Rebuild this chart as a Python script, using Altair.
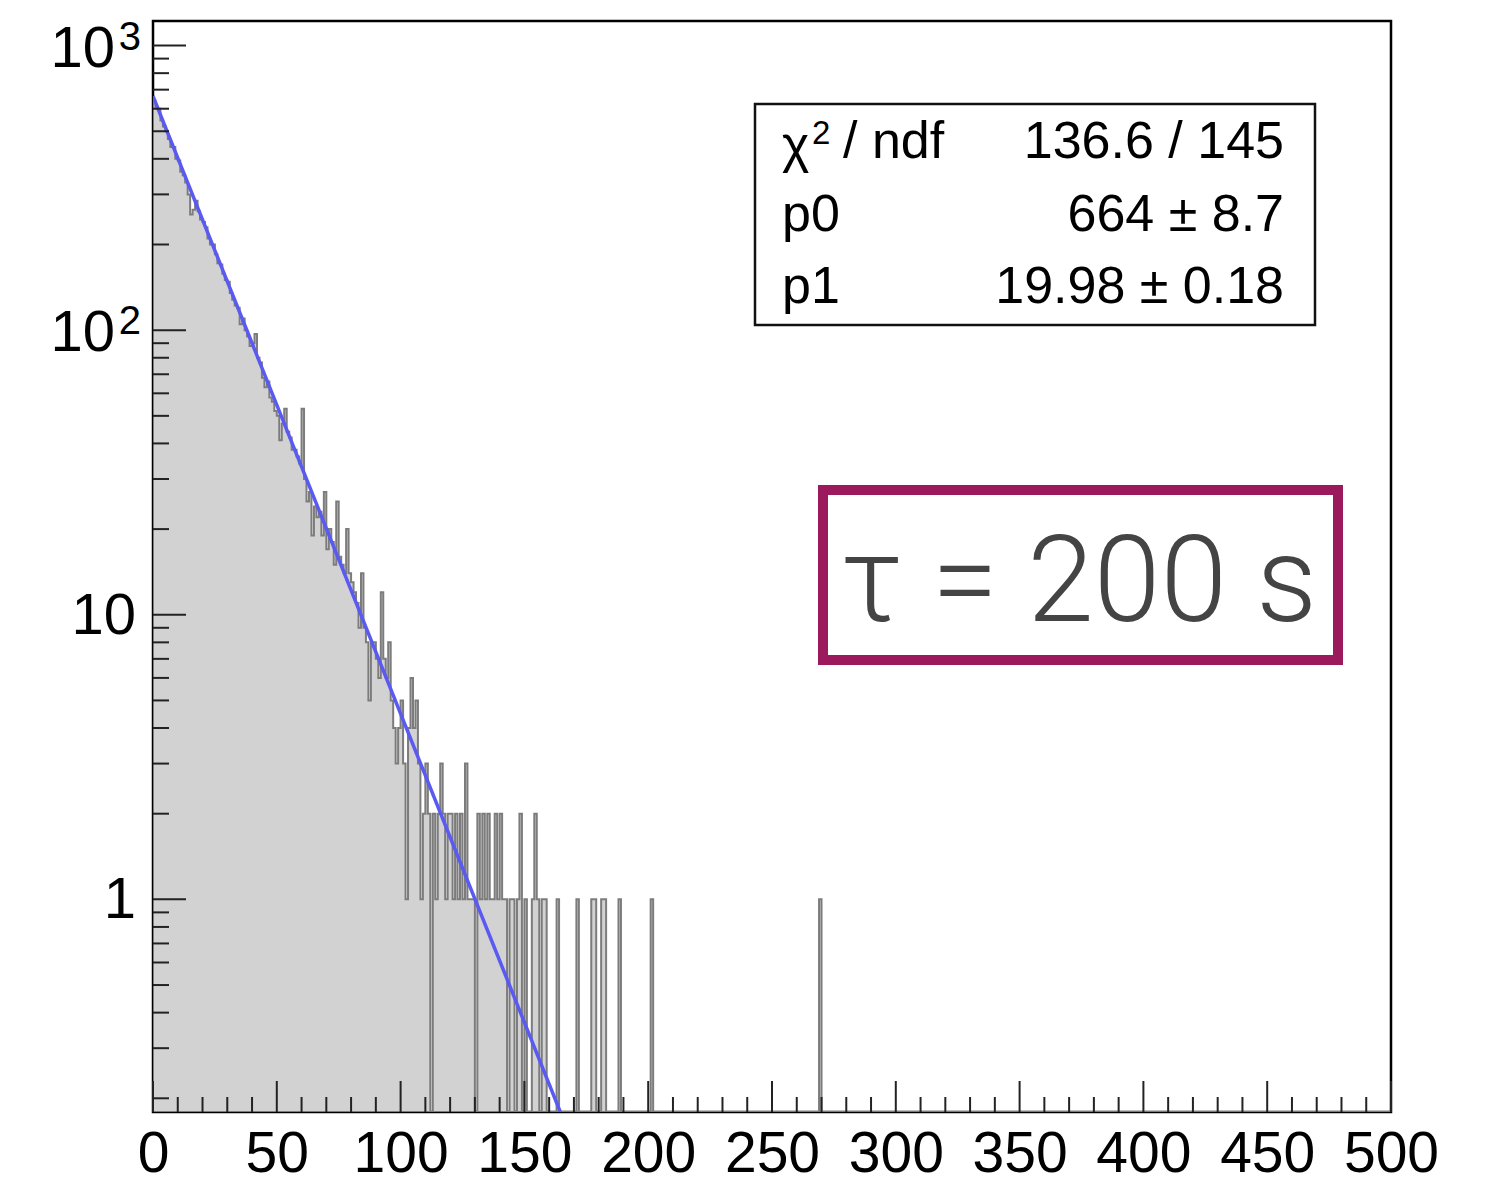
import altair as alt
import pandas as pd

# ---------------- data ----------------
# histogram counts, bin width 1, bins [i, i+1) starting at 0
counts_head = [
    640, 610, 600, 545, 520, 500, 470, 440, 440, 400,
    395, 360, 350, 330, 300, 255, 265, 285, 262, 245,
    240, 230, 210, 200, 200, 185, 172, 170, 158, 150,
    148, 135, 128, 122, 120, 105, 110, 100, 95, 88,
    90, 97, 80, 77, 68, 63, 66, 58, 56, 52,
    50, 41, 47, 53, 44, 42, 38, 38, 36, 34,
    53, 30, 25, 27, 19, 24, 22, 23, 19, 27,
    17, 20, 18, 15, 25, 16, 15, 14, 20, 14,
    13, 12, 11, 9, 14, 9, 8, 5, 8, 8,
    7, 6, 12, 7, 6, 8, 5, 4, 3, 4,
]
counts_tail = [
    5, 3, 1, 4, 6, 4, 5, 3, 1, 2,
    3, 2, 0, 2, 1, 2, 3, 2, 1, 2,
    2, 1, 2, 1, 2, 1, 3, 1, 1, 1,
    0, 2, 1, 2, 1, 2, 1, 1, 2, 1,
    2, 1, 1, 0, 1, 1, 0, 1, 2, 0,
    1, 0, 0, 1, 2, 1, 0, 1, 1, 0,
    0, 0, 0, 1, 0, 0, 0, 0, 0, 0,
    0, 1, 0, 0, 0, 0, 0, 1, 1, 0,
    0, 1, 1, 0, 0, 0, 0, 0, 1, 0,
    0, 0, 0, 0, 0, 0, 0, 0, 0, 0,
    0, 1, 0,
]
far_bins = [269]
far_counts = [1]

# exponential fit p0*exp(-x/p1), endpoints
fit_x = [0, 164.5]
fit_y = [664, 0.179]

x_label_values = [0, 50, 100, 150, 200, 250, 300, 350, 400, 450, 500]
y_plain_values = [1, 10]
y_plain_text = ["1", "10"]
y_pow_values = [100, 1000]
y_pow_base = ["10", "10"]
y_pow_exp = ["2", "3"]
y_major = [1, 10, 100, 1000]
y_minor = [0.2, 0.3, 0.4, 0.5, 0.6, 0.7, 0.8, 0.9,
           2, 3, 4, 5, 6, 7, 8, 9,
           20, 30, 40, 50, 60, 70, 80, 90,
           200, 300, 400, 500, 600, 700, 800, 900]
x_minor = [v for v in range(10, 500, 10) if v % 50 != 0]

stats_values = ["136.6 / 145", "664 ± 8.7", "19.98 ± 0.18"]
tau_text = "τ = 200 s"

# ---------------- build tables ----------------
N_BINS = 500
c = [0] * N_BINS
for i, v in enumerate(counts_head + counts_tail):
    c[i] = v
for b, v in zip(far_bins, far_counts):
    c[b] = v
hist = pd.DataFrame({"x": list(range(N_BINS)) + [N_BINS], "n": c + [c[-1]]})
fit = pd.DataFrame({"x": fit_x, "y": fit_y})

W, H = 1238, 1091
Y_MIN, Y_MAX = 0.179, 1220
FONT = "Liberation Sans"

xs = alt.Scale(domain=[0, 500], nice=False, zero=False)
ys = alt.Scale(type="log", domain=[Y_MIN, Y_MAX], nice=False, clamp=True)

x_axis = alt.Axis(values=x_label_values, title=None, ticks=False, domain=False, grid=False,
                  labelFontSize=57, labelFont=FONT, labelColor="black", labelPadding=14,
                  labelFlush=False)

X = alt.X("x:Q", scale=xs, axis=x_axis)
Y = alt.Y("y:Q", scale=ys, axis=None)

area = alt.Chart(hist).transform_calculate(
    y="max(datum.n, 0.01)"
).mark_area(
    interpolate="step-after", fill="#d2d2d2", stroke="#7c7c7c", strokeWidth=2, clip=True
).encode(x=X, y=Y, y2=alt.datum(Y_MIN))

fit_line = alt.Chart(fit).mark_line(color="#5a5af2", strokeWidth=3.5, clip=True).encode(x=X, y=Y)

TICK = "#222222"
xmaj = alt.Chart(pd.DataFrame({"x": x_label_values})).mark_rule(color=TICK, strokeWidth=2).encode(
    x=X, y=alt.value(H), y2=alt.value(H - 31))
xmin_ = alt.Chart(pd.DataFrame({"x": x_minor})).mark_rule(color=TICK, strokeWidth=2).encode(
    x=X, y=alt.value(H), y2=alt.value(H - 15))
ymaj = alt.Chart(pd.DataFrame({"y": y_major})).mark_rule(color=TICK, strokeWidth=2).encode(
    y=Y, x=alt.value(0), x2=alt.value(33))
ymin_ = alt.Chart(pd.DataFrame({"y": y_minor})).mark_rule(color=TICK, strokeWidth=2).encode(
    y=Y, x=alt.value(0), x2=alt.value(16))

# y tick labels (with real superscripts for the powers of ten)
ylab_plain = alt.Chart(pd.DataFrame({"y": y_plain_values, "t": y_plain_text})).mark_text(
    align="right", baseline="middle", font=FONT, fontSize=58, color="black", dy=2
).encode(y=Y, x=alt.value(-17), text="t:N")
ylab_base = alt.Chart(pd.DataFrame({"y": y_pow_values, "t": y_pow_base})).mark_text(
    align="right", baseline="middle", font=FONT, fontSize=58, color="black", dy=4
).encode(y=Y, x=alt.value(-38), text="t:N")
ylab_exp = alt.Chart(pd.DataFrame({"y": y_pow_values, "t": y_pow_exp})).mark_text(
    align="right", baseline="alphabetic", font=FONT, fontSize=40, color="black", dy=4
).encode(y=Y, x=alt.value(-12), text="t:N")

one = pd.DataFrame({"k": [0]})
stats_box = alt.Chart(one).mark_rect(fill="white", stroke="#111", strokeWidth=2.5).encode(
    x=alt.value(602), x2=alt.value(1162), y=alt.value(83), y2=alt.value(304))

SFS = 52
row_y = [121, 194, 266]
stats_layers = [
    alt.Chart(one).mark_text(text="χ", align="left", baseline="middle", font=FONT,
                             fontSize=SFS, color="black").encode(x=alt.value(629), y=alt.value(row_y[0] + 4)),
    alt.Chart(one).mark_text(text="2", align="left", baseline="alphabetic", font=FONT,
                             fontSize=33, color="black").encode(x=alt.value(659), y=alt.value(row_y[0] + 2)),
    alt.Chart(one).mark_text(text="/ ndf", align="left", baseline="middle", font=FONT,
                             fontSize=SFS, color="black").encode(x=alt.value(690), y=alt.value(row_y[0])),
    alt.Chart(one).mark_text(text="p0", align="left", baseline="middle", font=FONT,
                             fontSize=SFS, color="black").encode(x=alt.value(629), y=alt.value(row_y[1])),
    alt.Chart(one).mark_text(text="p1", align="left", baseline="middle", font=FONT,
                             fontSize=SFS, color="black").encode(x=alt.value(629), y=alt.value(row_y[2])),
]
for val, yy in zip(stats_values, row_y):
    stats_layers.append(alt.Chart(one).mark_text(
        text=val, align="right", baseline="middle", font=FONT, fontSize=SFS, color="black"
    ).encode(x=alt.value(1131), y=alt.value(yy)))

tau_box = alt.Chart(one).mark_rect(fill="white", stroke="#9b1a5e", strokeWidth=10).encode(
    x=alt.value(670), x2=alt.value(1185), y=alt.value(469), y2=alt.value(639))
tau_label = alt.Chart(one).mark_text(
    text=tau_text, align="center", baseline="alphabetic", font="Roboto", fontWeight=300,
    fontSize=120, color="#444444"
).encode(x=alt.value(926), y=alt.value(600))

chart = alt.layer(
    area, fit_line, xmaj, xmin_, ymaj, ymin_, ylab_plain, ylab_base, ylab_exp,
    stats_box, *stats_layers, tau_box, tau_label
).properties(
    width=W, height=H,
    autosize=alt.AutoSizeParams(type="none"),
    padding={"left": 145, "top": 13, "right": 90, "bottom": 72},
).configure_view(stroke="black", strokeWidth=2.5)

chart.save("out.html", embed_options={"renderer": "svg", "actions": False})
